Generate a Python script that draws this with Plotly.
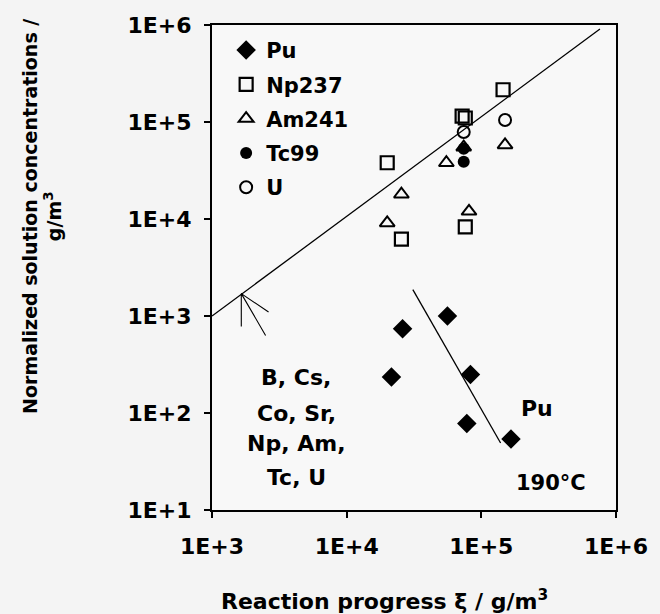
import plotly.graph_objects as go

# ---- data ----
pu_x = [2.6e4, 2.15e4, 5.6e4, 8.3e4, 7.8e4, 1.66e5]
pu_y = [7.4e2, 2.35e2, 1.0e3, 2.5e2, 78, 54]

np_x = [1.45e5, 7.2e4, 7.6e4, 2.0e4, 2.55e4, 7.6e4]
np_y = [2.15e5, 1.15e5, 1.10e5, 3.8e4, 6.2e3, 8.3e3]

am_x = [1.5e5, 5.5e4, 7.4e4, 2.55e4, 2.0e4, 8.1e4]
am_y = [5.8e4, 3.8e4, 5.5e4, 1.8e4, 9.1e3, 1.2e4]

tc_x = [7.4e4, 7.4e4]
tc_y = [5.3e4, 3.9e4]

u_x = [1.5e5, 7.4e4]
u_y = [1.05e5, 7.9e4]

# reference line and Pu trend line
ref_line_x = [1.0e3, 7.6e5]
ref_line_y = [1.0e3, 9.1e5]
pu_trend_x = [3.1e4, 1.39e5]
pu_trend_y = [1.87e3, 49]

# arrow pointing at the reference line
arrow_x = [2.63e3, 1.65e3, 2.5e3, 1.65e3, 1.65e3]
arrow_y = [1.1e3, 1.7e3, 6.3e2, 1.7e3, 7.8e2]

tick_vals = [1e1, 1e2, 1e3, 1e4, 1e5, 1e6]
tick_text = ["1E+1", "1E+2", "1E+3", "1E+4", "1E+5", "1E+6"]

block_lines = ["B, Cs,", "Co, Sr,", "Np, Am,", "Tc, U"]
block_line_y = [0.274, 0.200, 0.138, 0.068]

FONT = "DejaVu Sans"

fig = go.Figure()

fig.add_trace(go.Scatter(x=ref_line_x, y=ref_line_y, mode="lines",
                         line=dict(color="black", width=1.3), showlegend=False, hoverinfo="skip"))
fig.add_trace(go.Scatter(x=pu_trend_x, y=pu_trend_y, mode="lines",
                         line=dict(color="black", width=1.3), showlegend=False, hoverinfo="skip"))
fig.add_trace(go.Scatter(x=arrow_x, y=arrow_y, mode="lines",
                         line=dict(color="black", width=1.1), showlegend=False, hoverinfo="skip"))

fig.add_trace(go.Scatter(x=pu_x, y=pu_y, mode="markers", name="Pu", legendgroup="a",
                         marker=dict(symbol="diamond", size=15, color="black")))
fig.add_trace(go.Scatter(x=np_x, y=np_y, mode="markers", name="Np237", legendgroup="b",
                         marker=dict(symbol="square-open", size=13, color="black",
                                     line=dict(width=2.2, color="black"))))
fig.add_trace(go.Scatter(x=am_x, y=am_y, mode="markers", name="Am241", legendgroup="c",
                         marker=dict(symbol="triangle-up-open", size=13, color="black",
                                     line=dict(width=2, color="black"))))
fig.add_trace(go.Scatter(x=tc_x, y=tc_y, mode="markers", name="Tc99", legendgroup="d",
                         marker=dict(symbol="circle", size=12, color="black")))
fig.add_trace(go.Scatter(x=u_x, y=u_y, mode="markers", name="U", legendgroup="e",
                         marker=dict(symbol="circle-open", size=12, color="black",
                                     line=dict(width=2, color="black"))))

axis_common = dict(type="log", showgrid=False, zeroline=False, showline=True, mirror=True,
                   linecolor="black", linewidth=2, ticks="outside", ticklen=6, tickwidth=1.5,
                   tickcolor="black",
                   tickfont=dict(family=FONT, size=22, color="black", weight="bold"))

fig.update_xaxes(range=[3, 6], tickvals=tick_vals, ticktext=tick_text,
                 ticklabelstandoff=10, **axis_common)
fig.update_yaxes(range=[1, 6], tickvals=tick_vals, ticktext=tick_text,
                 ticklabelstandoff=8, **axis_common)

annotations = [
    dict(text="<b>Normalized solution concentrations /<br>g/m<sup>3</sup></b>",
         xref="paper", yref="paper", x=-0.42, y=0.605, textangle=-90,
         showarrow=False, xanchor="center", yanchor="middle",
         font=dict(family=FONT, size=19, color="black")),
    dict(text="<b>Reaction progress ξ / g/m<sup>3</sup></b>",
         xref="paper", yref="paper", x=0.4275, y=-0.186,
         showarrow=False, xanchor="center", yanchor="middle",
         font=dict(family=FONT, size=22, color="black")),
    dict(text="<b>Pu</b>", xref="paper", yref="paper", x=0.804, y=0.210,
         showarrow=False, xanchor="center", yanchor="middle",
         font=dict(family=FONT, size=22, color="black")),
    dict(text="<b>190°C</b>", xref="paper", yref="paper", x=0.838, y=0.0557,
         showarrow=False, xanchor="center", yanchor="middle",
         font=dict(family=FONT, size=21, color="black")),
]
for txt, yy in zip(block_lines, block_line_y):
    annotations.append(dict(text=f"<b>{txt}</b>", xref="paper", yref="paper", x=0.208, y=yy,
                            showarrow=False, xanchor="center", yanchor="middle",
                            font=dict(family=FONT, size=22, color="black")))

fig.update_layout(
    width=660, height=614,
    margin=dict(l=212, r=34, t=25, b=104),
    paper_bgcolor="#f4f4f4", plot_bgcolor="#f8f8f8",
    font=dict(family=FONT, color="black"),
    legend=dict(x=0.035, y=0.99, xanchor="left", yanchor="top",
                bgcolor="rgba(0,0,0,0)", tracegroupgap=4,
                font=dict(family=FONT, size=21, color="black", weight="bold")),
    annotations=annotations,
)

fig.write_html("out.html")
